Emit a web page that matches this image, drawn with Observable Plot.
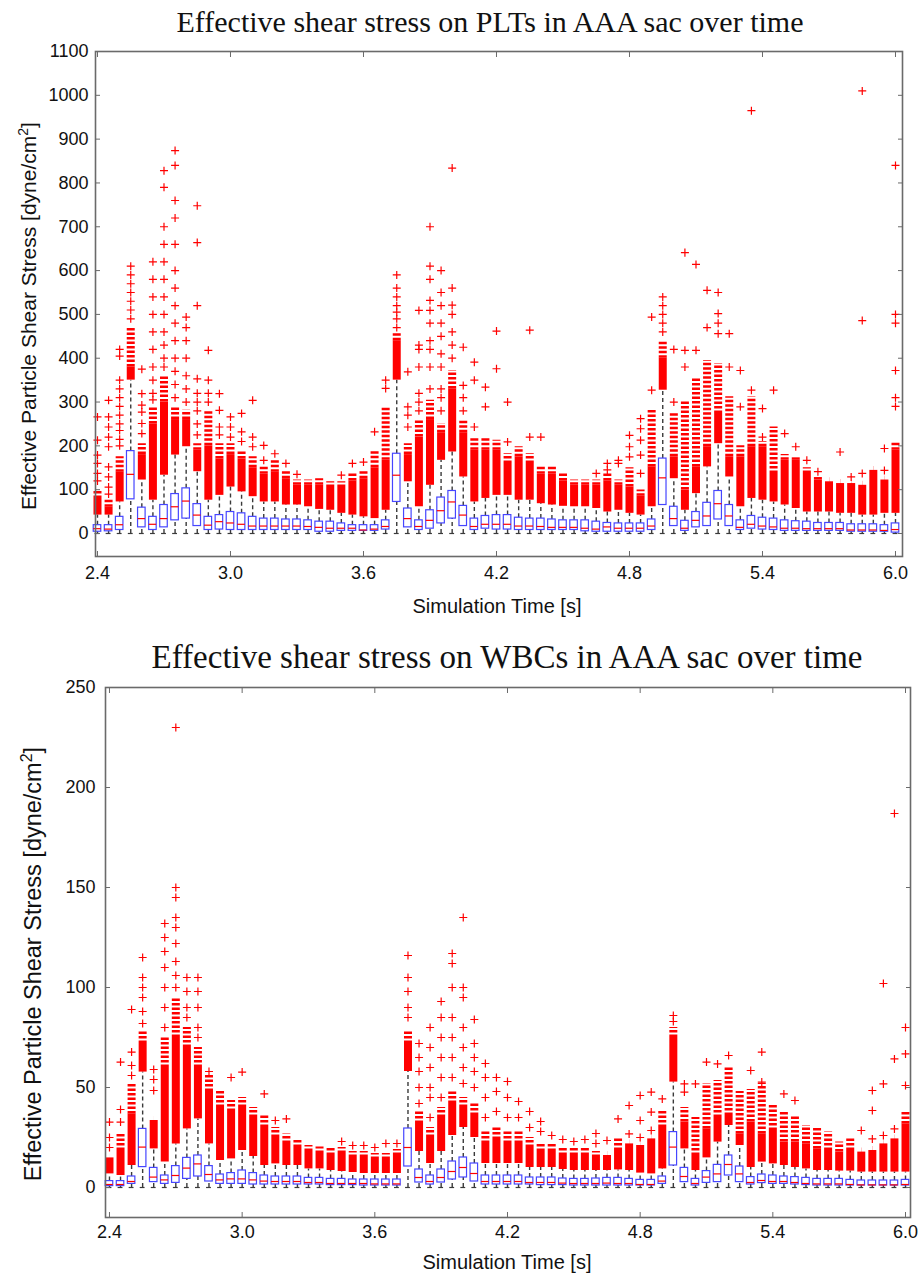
<!DOCTYPE html>
<html><head><meta charset="utf-8">
<script src="https://cdn.jsdelivr.net/npm/d3@7"></script>
<script src="https://cdn.jsdelivr.net/npm/@observablehq/plot@0.6"></script>
<style>
body{margin:0;background:#fff;}
#page{position:relative;width:919px;height:1276px;overflow:hidden;font-family:"Liberation Sans",Arial,sans-serif;background:#fff;}
.title{position:absolute;font-family:"Liberation Serif","Times New Roman",serif;font-size:30px;white-space:nowrap;transform:translate(-50%,-50%);color:#111;line-height:1;}
.xlab{position:absolute;font-size:20px;white-space:nowrap;transform:translate(-50%,-50%);line-height:1;color:#111;}
.ylab{position:absolute;white-space:nowrap;transform:translate(-50%,-50%) rotate(-90deg);line-height:1;color:#111;}
.panel{position:absolute;left:0;}
</style></head>
<body><div id="page">
<div class="title" style="left:490px;top:22px">Effective shear stress on PLTs in AAA sac over time</div>
<div class="ylab" style="left:27px;top:316px;font-size:21px">Effective Particle Shear Stress [dyne/cm<sup style="font-size:14px">2</sup>]</div>
<div class="xlab" style="left:497px;top:606px">Simulation Time [s]</div>
<div class="title" style="left:507px;top:657px;font-size:33px">Effective shear stress on WBCs in AAA sac over time</div>
<div class="ylab" style="left:32px;top:964px;font-size:23.5px">Effective Particle Shear Stress [dyne/cm<sup style="font-size:16px">2</sup>]</div>
<div class="xlab" style="left:507px;top:1262px">Simulation Time [s]</div>
<div id="top" class="panel" style="top:0px"></div>
<div id="bottom" class="panel" style="top:630px"></div>
</div>
<script>
const times = [2.40,2.45,2.50,2.55,2.60,2.65,2.70,2.75,2.80,2.85,2.90,2.95,3.00,3.05,3.10,3.15,3.20,3.25,3.30,3.35,3.40,3.45,3.50,3.55,3.60,3.65,3.70,3.75,3.80,3.85,3.90,3.95,4.00,4.05,4.10,4.15,4.20,4.25,4.30,4.35,4.40,4.45,4.50,4.55,4.60,4.65,4.70,4.75,4.80,4.85,4.90,4.95,5.00,5.05,5.10,5.15,5.20,5.25,5.30,5.35,5.40,5.45,5.50,5.55,5.60,5.65,5.70,5.75,5.80,5.85,5.90,5.95,6.00];
const xTicks = [2.4,3.0,3.6,4.2,4.8,5.4,6.0];
const pltYTicks = [0,100,200,300,400,500,600,700,800,900,1000,1100];
const wbcYTicks = [0,50,100,150,200,250];

// PLT panel
const pltQ1 = [4,5,8,78,14,8,14,30,34,17, 8,9,8,8,8,8,8,8,8,8, 4,4,6,6,6,6,9,72,14,8, 11,23,34,17,8,11,9,9,8,8, 8,8,8,8,5,4,4,4,4,4, 8,65,17,6,14,17,32,17,8,11, 9,8,6,6,6,6,6,6,4,4, 4,4,2];
const pltMed = [11,10,20,135,34,21,34,61,74,42, 19,27,24,21,17,17,17,17,17,16, 14,12,12,12,8,10,16,133,34,16, 30,52,72,42,16,21,21,21,17,17, 16,14,14,14,12,10,15,12,12,12, 17,127,34,12,30,40,68,40,14,21, 17,15,12,12,11,11,11,11,8,8, 8,7,9];
const pltQ3 = [19,19,38,188,59,38,65,90,103,67, 38,42,49,46,38,34,34,32,32,30, 27,27,23,19,19,19,30,182,57,30, 53,82,97,63,34,40,42,42,36,34, 34,32,30,30,30,27,24,23,23,23, 32,171,61,29,49,70,97,65,30,40, 36,34,30,28,27,24,24,24,21,21, 21,19,23];
const pltWhiskerHi = [42,42,72,350,122,76,133,179,198,141, 76,87,106,95,84,72,72,65,65,61, 55,53,46,42,38,34,53,350,118,61, 110,167,186,129,72,80,87,87,76,76, 68,65,62,61,61,57,49,53,46,42, 61,327,125,53,91,152,205,129,61,80, 76,72,65,57,49,49,49,46,46,42, 42,46,46];
const pltDenseTop = [80,60,140,380,180,250,300,260,260,190, 200,170,180,170,150,135,140,125,110,110, 110,105,105,120,125,150,167,440,180,220, 260,230,330,230,190,190,190,160,175,160, 135,135,120,110,110,110,120,110,106,85, 152,400,175,99,152,198,274,175,175,198, 198,137,167,167,137,122,118,114,114,110, 144,122,190];
const pltLooseTop = [100,76,175,470,205,289,357,289,281,205, 281,205,205,190,175,152,167,144,122,122, 125,118,118,137,144,190,289,456,205,258, 304,251,372,258,220,220,213,182,198,182, 152,152,137,122,122,122,137,122,150,99, 281,441,274,304,357,395,388,312,200,312, 210,243,180,175,150,130,118,114,114,110, 144,122,210];
const pltOutliers = [
[120,137,160,179,213,266],[90,106,129,152,198,220,243,266,304],[200,215,235,250,270,290,310,330,350,405,420],[490,510,530,550,570,590,610],[228,251,277,293,319,375],
[305,320,350,380,420,460,500,540,580,620],[380,400,430,460,500,540,580,620,660,700,790,828],[310,340,370,400,440,480,520,560,600,660,720,760,840,874],[300,330,360,400,440,470,494],[225,250,280,300,320,353,520,664,748],
[300,320,350,418],[225,243,281,319],[220,243,266],[210,232,274],[198,220,304],
[167,201],[182],[160],[135],[],
[],[],[133],[160],[163],
[232],[331,350],[470,490,505,520,540,560,590],[243,270,289,369],[280,300,320,380,420,430,509],
[330,380,420,440,480,509,532,580,610,700],[280,310,330,380,410,450,480,520,550,600],[400,430,460,500,521,560,834],[280,310,338,425],[243,350,391],
[289,334],[376,462],[209,300],[],[220,464],
[220],[],[],[],[],
[137],[145,160],[160,167],[175,198,224],[137,179,213,239,262],
[327,494],[460,480,500,520,540],[300,420],[380,418,641],[418,614],
[470,555],[456,480,502,550],[380,456],[289,372],[327,965],
[220,285],[327],[228],[198],[167],
[141],[],[186],[129],[137,486,1010],
[],[144,194],[290,310,372,480,500,840]
];

// WBC panel
const wbcQ1 = [0.7,0.7,1.8,10.2,2.7,1.8,2.3,4.3,5.5,3, 1.8,1.8,1.8,1.5,1.5,1.5,1.5,1.5,1.5,1.5, 1.2,1.2,1.2,1,1,1,1,10.5,2.5,1.5, 2.5,4,5,3,1.5,1.5,1.5,1.5,1.5,1.2, 1.2,1.2,1,1,1,1,1,1,1,1, 1.8,11,2.7,1,2.3,2.7,6,2.7,1.5,2.2, 1.8,1.8,1.5,1.2,1,1,1,1,1,1, 1,1,1];
const wbcMed = [1.5,1.5,3,20.2,5.2,3.8,6,9.7,11.8,6.5, 3.8,4.3,4.3,3.8,3.2,3,3,3,2.5,2.5, 2,2,2,2,1.8,1.8,1.8,20,5,3, 5,8,10,7,3,3,3,3,2.5,2.5, 2.5,2.2,2,2,2,2.2,2,2,1.5,1.5, 3.2,20.2,5.5,2,5.2,6.8,11.5,6.8,2.5,3.5, 3,3,2.5,2,1.8,1.8,1.8,1.5,1.3,1.3, 1.3,1.3,1.5];
const wbcQ3 = [3.2,3.2,5.5,29.3,9.8,6,10.7,14.8,16,10.7, 6.5,7.2,8.5,7.2,6,5.5,5.5,5.5,4.8,4.8, 4.3,4.3,4,4,4,4,4,29.5,9,6, 9,13,15,12,6,6,6,6,5,5, 5,4.5,4.3,4.3,4.5,4.8,4.8,4.3,3.8,3.8, 5.5,27.7,9.8,4.3,8.2,11.3,16,10.5,5.2,6.5, 6,5.5,5.2,4.8,4.3,4.3,4.3,3.8,3.5,3.5, 3.5,3.5,3.8];
const wbcWhiskerHi = [6.8,6,11,57.7,19.3,12.7,21.8,29.3,34.3,21.8, 13.5,14.3,18.5,15.5,11,11.8,11,11,9.3,9.3, 8.5,8,7.5,7,7,7,7,58,18,12, 18,26,30,25,12,12,12,12,10,10, 10,9,8.5,8.5,8.5,8.5,8.8,8.5,7.2,6.8, 9.3,52.7,19.3,8.5,14.8,22.7,31,21,10,12.7, 11.8,11,10,9.3,8.5,8.5,8.2,8.2,7.7,7.7, 7.7,7.7,7.7];
const wbcDenseTop = [14.8,18.5,36.8,72,33.5,60,75,70,60,48, 40,38,40,35,30,25,22,20,18,17, 16,17,15,15,14,14,16,72,32,25, 35,42,40,36,22,24,22,22,20,18, 18,16,16,16,15,16,18.5,21.8,21,24.3, 30,75,32.7,16,29.3,35,36,26.8,32.7,26.8, 28.5,22.7,22.7,21.8,19.3,18.5,17.7,18.5,17.7,18.5, 21.8,24.3,31.8];
const wbcLooseTop = [14.8,27,52,78,33.5,75,95,80,70,56, 48.5,43.5,45,40,36.8,30,26.8,24.3,21,20.2, 20.2,20,18,18,17,17,19,78,38,30, 40,48,45,42,28,30,28,28,25,22, 22,20,20,20,18,16,25,21.8,21,24.3, 38,80,40,35,52,53.5,60,48,49,52, 41.8,38,36,31,30.2,27.7,22.7,24.3,17.7,18.5, 21.8,24.3,37.7];
const wbcOutliers = [
[20,25,32.7],[32.7,39,62.7],[56,61,67.7,89],[82,88,95,100,105,115],[48.5,54,59],
[80,90,100,110,118,125,132],[100,106,113,122,130,135,145,150,230],[85,90,98,105],[75,80,90,98,105],[58],
[],[55],[57.7],[],[46.8],
[33.5],[34.3],[],[],[],
[],[23],[21],[21],[20],
[22],[22],[85,90,98,105,116],[42,50,58,65,72],[35,45,50,60,70,80],
[45,55,65,75,85,93],[55,65,75,85,100,112,117],[52,60,70,80,95,100,135],[50,58,65,72,84],[35,45,55,62],
[38,48,55],[35,45,53],[35,43],[30,38],[28,33],
[26],[24],[23],[24],[22,27],
[23.5],[34.3],[26.8,41],[25,33.5,46],[28.5,37.7,47.7],
[44.3],[83,86],[47.7,51.8],[51.8],[62.7],
[61.8],[66],[],[58.5],[52.7,67.7],
[],[46.8],[43.5],[],[],
[],[],[],[28.5],[24.3,38.5,48.5],
[26,51.8,102],[29.3,64.3,187],[51,66.8,80]
];

function panel(cfg) {
  const rows = times.map((t, i) => ({t, q1: cfg.q1[i], med: cfg.med[i], q3: cfg.q3[i], hi: cfg.hi[i], dense: cfg.dense[i], loose: cfg.loose[i]}));
  const pts = times.flatMap((t, i) => cfg.out[i].map(v => ({t, v})));
  const hw = 0.017, cw = 0.011;
  const red = "#ff0000", blue = "#4646ff", dash = "#3a3a3a", axc = "#6a6a6a";
  return Plot.plot({
    width: 919, height: cfg.height,
    marginLeft: cfg.ml, marginRight: cfg.mr, marginTop: cfg.mt, marginBottom: cfg.mb,
    x: {domain: cfg.xDomain},
    y: {domain: cfg.yDomain},
    style: {fontFamily: '"Liberation Sans", Arial, sans-serif', fontSize: "18px", color: "#111", background: "transparent", overflow: "visible"},
    marks: [
      Plot.ruleX(rows, {x: "t", y1: 0, y2: "q1", stroke: dash, strokeWidth: 1.4, strokeDasharray: "4,3"}),
      Plot.ruleX(rows, {x: "t", y1: "q3", y2: "hi", stroke: dash, strokeWidth: 1.4, strokeDasharray: "4,3"}),
      Plot.ruleY(rows, {y: 0, x1: d => d.t - cw, x2: d => d.t + cw, stroke: dash, strokeWidth: 1.2}),
      Plot.ruleX(rows, {x: "t", y1: "hi", y2: "dense", stroke: red, strokeWidth: 8}),
      Plot.ruleX(rows, {x: "t", y1: "dense", y2: "loose", stroke: red, strokeWidth: 8, strokeDasharray: "2.5,2"}),
      Plot.dot(pts, {x: "t", y: "v", symbol: "plus", stroke: red, r: 2.7, strokeWidth: 1.2}),
      Plot.rect(rows, {x1: d => d.t - hw, x2: d => d.t + hw, y1: "q1", y2: "q3", stroke: blue, strokeWidth: 1.2, fill: "none"}),
      Plot.ruleY(rows, {y: "med", x1: d => d.t - hw, x2: d => d.t + hw, stroke: red, strokeWidth: 1.2}),
      Plot.frame({stroke: axc, strokeWidth: 1.6}),
      Plot.axisY(cfg.yTicks, {anchor: "left", tickSize: -5, tickPadding: cfg.yPad, stroke: axc, label: null, tickFormat: d => String(d)}),
      Plot.axisY(cfg.yTicks, {anchor: "right", tickSize: -5, stroke: axc, label: null, tickFormat: () => ""}),
      Plot.axisX(xTicks, {anchor: "bottom", tickSize: -5, tickPadding: cfg.xPad, stroke: axc, label: null, tickFormat: d => d.toFixed(1)}),
      Plot.axisX(xTicks, {anchor: "top", tickSize: -5, stroke: axc, label: null, tickFormat: () => ""})
    ]
  });
}

document.getElementById("top").append(panel({
  q1: pltQ1, med: pltMed, q3: pltQ3, hi: pltWhiskerHi, dense: pltDenseTop, loose: pltLooseTop, out: pltOutliers,
  height: 630, ml: 95, mr: 17, mt: 51, mb: 74,
  xDomain: [2.391, 6.0316], yDomain: [-52.5, 1100], yTicks: pltYTicks, yPad: 12, xPad: 15
}));
document.getElementById("bottom").append(panel({
  q1: wbcQ1, med: wbcMed, q3: wbcQ3, hi: wbcWhiskerHi, dense: wbcDenseTop, loose: wbcLooseTop, out: wbcOutliers,
  height: 646, ml: 105, mr: 9, mt: 57, mb: 59,
  xDomain: [2.382, 6.0226], yDomain: [-15, 250], yTicks: wbcYTicks, yPad: 15, xPad: 13
}));
</script>
</body></html>
